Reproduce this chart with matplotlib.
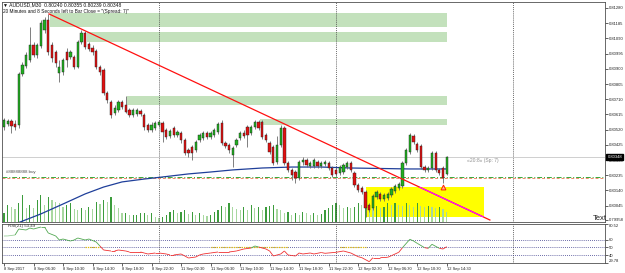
import numpy as np
import matplotlib
matplotlib.use('Agg')
import matplotlib.pyplot as plt
from matplotlib.patches import Rectangle
from matplotlib.collections import LineCollection
from matplotlib.transforms import blended_transform_factory

plt.rcParams['font.family'] = ['Liberation Sans', 'DejaVu Sans']

# AUDUSD M30 bars, prices in points (1 point = 0.00001)
opens = [80536, 80555, 80574, 80555, 80549, 80868, 80918, 80955, 81049, 80986,
         81043, 81143, 81205, 81049, 81005, 80874, 80880, 81005, 80974, 80974,
         80911, 81068, 81124, 81055, 81030, 81011, 80911, 80893, 80749, 80693,
         80624, 80643, 80693, 80674, 80643, 80611, 80618, 80636, 80611, 80549,
         80518, 80530, 80549, 80561, 80518, 80480, 80530, 80486, 80499, 80455,
         80393, 80411, 80393, 80455, 80468, 80499, 80474, 80486, 80505, 80561,
         80436, 80424, 80361, 80424, 80468, 80499, 80536, 80499, 80536, 80568,
         80568, 80486, 80436, 80411, 80318, 80424, 80530, 80311, 80268, 80255,
         80218, 80318, 80330, 80293, 80293, 80318, 80293, 80305, 80311, 80280,
         80268, 80249, 80255, 80286, 80311, 80249, 80174, 80155, 80130, 80049,
         80030, 80099, 80118, 80086, 80093, 80111, 80136, 80155, 80168, 80311,
         80380, 80480, 80430, 80418, 80286, 80268, 80280, 80374, 80268, 80280,
         80240]
highs = [80593, 80586, 80586, 80580, 80880, 80943, 81005, 81161, 81068, 81061,
         81205, 81224, 81243, 81068, 81018, 80955, 80968, 81030, 81018, 80986,
         81080, 81143, 81136, 81068, 81049, 81024, 80924, 80905, 80761, 80705,
         80674, 80705, 80705, 80730, 80655, 80655, 80655, 80649, 80624, 80561,
         80568, 80574, 80580, 80574, 80530, 80524, 80543, 80518, 80511, 80468,
         80405, 80424, 80455, 80499, 80511, 80511, 80511, 80530, 80568, 80580,
         80449, 80436, 80418, 80468, 80511, 80518, 80549, 80549, 80580, 80580,
         80580, 80499, 80449, 80424, 80480, 80549, 80543, 80324, 80280, 80268,
         80330, 80349, 80343, 80324, 80343, 80330, 80324, 80330, 80324, 80293,
         80280, 80299, 80311, 80324, 80324, 80261, 80186, 80168, 80143, 80061,
         80118, 80143, 80130, 80124, 80130, 80161, 80180, 80193, 80324, 80405,
         80499, 80493, 80443, 80430, 80299, 80293, 80386, 80386, 80280, 80293,
         80355]
lows = [80518, 80543, 80499, 80518, 80530, 80855, 80905, 80943, 80974, 80968,
        81030, 81124, 80986, 80943, 80911, 80818, 80861, 80911, 80961, 80899,
        80905, 81055, 81024, 81011, 80986, 80899, 80861, 80736, 80686, 80593,
        80611, 80630, 80649, 80624, 80599, 80599, 80605, 80605, 80518, 80505,
        80505, 80518, 80536, 80443, 80461, 80468, 80474, 80474, 80436, 80361,
        80349, 80330, 80380, 80443, 80455, 80461, 80461, 80474, 80493, 80424,
        80405, 80374, 80286, 80411, 80455, 80468, 80411, 80486, 80524, 80518,
        80461, 80443, 80368, 80299, 80305, 80411, 80299, 80255, 80205, 80186,
        80205, 80299, 80286, 80280, 80280, 80280, 80280, 80293, 80268, 80224,
        80230, 80236, 80243, 80274, 80255, 80161, 80130, 80118, 79974, 80005,
        80018, 80086, 80074, 80074, 80080, 80099, 80124, 80143, 80155, 80299,
        80368, 80430, 80380, 80274, 80255, 80255, 80268, 80255, 80236, 80186,
        80239]
closes = [80580, 80574, 80543, 80536, 80868, 80924, 80986, 81049, 80986, 81049,
          81186, 81205, 81005, 80968, 80936, 80911, 80955, 80955, 81005, 80911,
          81068, 81124, 81036, 81024, 81005, 80911, 80880, 80749, 80705, 80611,
          80655, 80693, 80661, 80630, 80611, 80643, 80643, 80618, 80536, 80518,
          80549, 80561, 80568, 80505, 80474, 80511, 80486, 80505, 80455, 80374,
          80374, 80374, 80443, 80486, 80499, 80474, 80499, 80518, 80555, 80436,
          80418, 80393, 80405, 80455, 80499, 80480, 80486, 80536, 80568, 80530,
          80474, 80455, 80380, 80311, 80424, 80530, 80311, 80268, 80236, 80218,
          80318, 80330, 80299, 80311, 80330, 80293, 80311, 80318, 80280, 80236,
          80243, 80286, 80299, 80311, 80268, 80174, 80143, 80130, 80030, 80018,
          80105, 80130, 80086, 80111, 80118, 80149, 80168, 80180, 80311, 80393,
          80486, 80443, 80393, 80286, 80268, 80280, 80374, 80268, 80249, 80218,
          80348]
volumes = [360, 680, 600, 520, 760, 1080, 560, 680, 560, 880,
           1080, 680, 1000, 880, 800, 760, 600, 680, 760, 520,
           480, 560, 480, 600, 520, 800, 720, 880, 800, 1000,
           680, 560, 360, 360, 280, 280, 280, 360, 360, 280,
           360, 200, 160, 200, 280, 400, 480, 360, 400, 480,
           320, 400, 280, 360, 280, 240, 280, 400, 480, 640,
           600, 760, 600, 520, 480, 600, 480, 680, 560, 600,
           480, 600, 640, 680, 520, 480, 360, 400, 280, 360,
           280, 400, 360, 280, 360, 280, 320, 480, 560, 680,
           760, 680, 560, 600, 560, 600, 760, 680, 760, 680,
           600, 640, 560, 600, 760, 680, 760, 680, 640, 760,
           680, 600, 760, 640, 600, 640, 600, 560, 600, 520,
           400]

# moving average (sampled bars)
ma_bar = [3, 10, 16, 22, 27, 32, 38, 43, 50, 56, 62, 70, 78, 86, 94, 102, 110, 120]
ma_val = [79930, 79993, 80055, 80118, 80161, 80193, 80211, 80224, 80243, 80255,
          80268, 80280, 80286, 80286, 80280, 80277, 80274, 80274]

# RSI(21)
rsi_bar = [0, 1, 3, 4, 6, 7, 8, 10, 11, 12, 14, 15, 16, 18, 19, 20, 22, 23, 25, 26,
           27, 29, 30, 31, 33, 34, 37, 38, 39, 41, 42, 44, 45, 46, 48, 49, 50, 52, 53, 54,
           56, 58, 61, 63, 64, 65, 67, 68, 69, 71, 72, 73, 75, 76, 77, 79, 80, 81, 83, 84,
           86, 87, 90, 92, 94, 96, 97, 99, 100, 102, 104, 105, 107, 108, 110, 111, 112, 114,
           115, 116, 118, 119, 120]
rsi_val = [64.9, 65.0, 66.2, 74.0, 72.7, 75.3, 74.0, 76.6, 76.6, 68.8, 65.0, 59.7, 61.0,
           58.4, 59.7, 62.3, 59.7, 61.0, 57.1, 51.9, 46.7, 45.4, 45.4, 46.7, 45.4, 44.1,
           44.1, 42.8, 41.5, 42.8, 42.8, 41.5, 40.2, 40.2, 41.5, 38.9, 36.3, 37.6, 40.2,
           41.5, 42.8, 44.1, 44.1, 45.4, 46.7, 48.0, 49.3, 51.9, 50.6, 48.0, 45.4, 38.9,
           41.5, 45.4, 40.2, 38.9, 42.8, 41.5, 42.8, 41.5, 43.4, 42.4, 43.7, 45.4, 42.8,
           38.0, 36.7, 31.5, 36.7, 36.7, 37.2, 39.3, 43.7, 49.7, 60.6, 58.4, 55.4, 49.7,
           48.9, 54.1, 48.9, 48.0, 51.0]
rsi_yellow = [(22, 26), (56, 77), (91, 98)]

# chart objects
zone_start = [12.5, 22.5, 33.3, 69.4]
zone_end = [120, 120, 120, 120]
zone_top = [81249, 81130, 80730, 80586]
zone_bot = [81161, 81068, 80674, 80549]
box_x = (98.1, 130.1)
box_y = (79974, 80161)
trend_x = [12.2, 131.7]
trend_y = [81243, 79955]
day_breaks = [42, 90, 138]
bid, order_open, order_sl = 80348, 80226, 80216

time_labels = ['8 Sep 2017', '8 Sep 06:30', '8 Sep 10:30', '8 Sep 14:30', '8 Sep 18:30',
               '8 Sep 22:30', '11 Sep 02:30', '11 Sep 06:30', '11 Sep 10:30',
               '11 Sep 14:30', '11 Sep 18:30', '11 Sep 22:30', '12 Sep 02:30',
               '12 Sep 06:30', '12 Sep 10:30', '12 Sep 14:30']
price_ticks = [81280, 81185, 81090, 80995, 80900, 80805, 80710, 80615, 80520,
               80425, 80330, 80235, 80140, 80045, 79958]

pt = 1e-5
o, h, l, c = (np.array(a) * pt for a in (opens, highs, lows, closes))
x = np.arange(len(o))

W, H = 625, 273
def box(left, top, right, bottom):
    return [left / W, 1 - bottom / H, (right - left) / W, (bottom - top) / H]

fig = plt.figure(figsize=(6.25, 2.73), dpi=100)
ax_vol = fig.add_axes(box(2, 2, 605, 222))
ax = fig.add_axes(box(2, 2, 605, 222), sharex=ax_vol)
ax.patch.set_visible(False)
ax_rsi = fig.add_axes(box(2, 224, 605, 263), sharex=ax_vol)

xmin, xmax = -0.54, 162.9
ax.set_xlim(xmin, xmax)
ax.set_ylim(0.799425, 0.813175)

# yellow box + volumes underneath the candles
ax_vol.axis('off')
ax_vol.set_ylim(0, 8800)
ax_vol.add_patch(Rectangle((box_x[0], box_y[0] * pt), box_x[1] - box_x[0],
                           (box_y[1] - box_y[0]) * pt, transform=ax.transData,
                           facecolor='#ffff00', edgecolor='none', zorder=0))
vol = np.array(volumes)
vcol = ['#3c9c3c' if i == 0 or vol[i] >= vol[i - 1] else '#a8d8a0' for i in range(len(vol))]
ax_vol.bar(x, vol, width=0.32, color=vcol, zorder=2)

# supply / demand zones
for x0, x1, y1, y0 in zip(zone_start, zone_end, zone_top, zone_bot):
    ax.add_patch(Rectangle((x0, y0 * pt), x1 - x0, (y1 - y0) * pt,
                           facecolor='#c3e1bc', edgecolor='none', zorder=0))

for d in day_breaks:
    ax.axvline(d, color='#404040', lw=0.6, ls=(0, (1, 1.3)), zorder=1)
    ax_rsi.axvline(d, color='#404040', lw=0.6, ls=(0, (1, 1.3)), zorder=1)

ax.axhline(bid * pt, color='#c8c8c8', lw=0.6, zorder=1)
ax.axhline(order_open * pt, color='#3aa83a', lw=0.7, ls=(0, (5, 2, 1, 2)), zorder=1)
ax.axhline(order_sl * pt, color='#f08a6a', lw=0.7, ls=(0, (3, 2)), zorder=1)

ma_line = ax.plot(ma_bar, np.array(ma_val) * pt, color='#1f3f9a', lw=0.9, zorder=2)

# candles
up = c >= o
ax.vlines(x, l, h, color='#6a6a6a', lw=0.6, zorder=3)
ax.bar(x, np.maximum(np.abs(c - o), 2 * pt), bottom=np.minimum(o, c), width=0.62,
       color=np.where(up, '#20b020', '#e01010'), edgecolor='#202020', linewidth=0.3, zorder=4)

# trend line, magenta where it crosses the yellow box
ty = np.array(trend_y) * pt
ax.plot(trend_x, ty, color='#ff1010', lw=0.9, zorder=5)
mag = ax.plot(trend_x, ty, color='#ff10ff', lw=0.9, zorder=6)[0]
clip = Rectangle((box_x[0], box_y[0] * pt), box_x[1] - box_x[0], (box_y[1] - box_y[0]) * pt,
                 transform=ax.transData)
mag.set_clip_path(clip)

ax.plot([119], [80161 * pt], marker='^', ms=3.5, mfc='#ffb49a', mec='#ff2000', mew=0.7, zorder=7)

# labels inside the main panel
ax.text(125.5, 80324 * pt, '«20:8» (Sp: 7)', fontsize=3.6, color='#909090', va='center')
ax.text(0.5, 80245 * pt, '#88888888 buy', fontsize=3.2, color='#505050', va='bottom')
ax.text(159.6, 79962 * pt, 'Text', fontsize=5.5, color='#202020', va='center', ha='left')
fig.text(3 / W, 1 - 4.5 / H, '▼ AUDUSD,M30  0.80240 0.80355 0.80239 0.80348',
         fontsize=3.6, va='center', color='#101010')
fig.text(3 / W, 1 - 11.5 / H,
         '20 Minutes and 8 Seconds left to Bar Close = "(Spread: 7)"',
         fontsize=3.4, va='center', color='#101010')

# price axis on the right
ax.yaxis.tick_right()
ax.set_yticks(np.array(price_ticks) * pt)
ax.set_yticklabels(['%.5f' % (p * pt) for p in price_ticks])
ax.tick_params(axis='y', length=2, width=0.5, pad=1, labelsize=3.0, colors='#202020')
ax.tick_params(axis='x', bottom=False, labelbottom=False)
tr = blended_transform_factory(ax.transAxes, ax.transData)
ax.text(1.004, bid * pt, '%.5f' % (bid * pt), transform=tr, fontsize=3.0, color='white',
        va='center', ha='left', clip_on=False, zorder=10,
        bbox=dict(boxstyle='square,pad=0.25', fc='black', ec='black'))

# RSI panel
rsi_b = np.array(rsi_bar, dtype=float)
rsi_v = np.array(rsi_val)
segs = [[(rsi_b[i], rsi_v[i]), (rsi_b[i + 1], rsi_v[i + 1])] for i in range(len(rsi_b) - 1)]
cols = []
for i in range(len(segs)):
    mid = (rsi_v[i] + rsi_v[i + 1]) / 2
    if rsi_b[i] < 3:
        cols.append('#9ad09a')
    elif mid >= 50:
        cols.append('#52a852')
    else:
        cols.append('#f03030')
ax_rsi.add_collection(LineCollection(segs, colors=cols, linewidths=0.6, zorder=3))
for lev in (40, 50, 60):
    ax_rsi.axhline(lev, color='#3c3c8c', lw=0.6, ls=(0, (1, 1.5)), zorder=1)
for a, b in rsi_yellow:
    ax_rsi.hlines(50, a, b, color='#e8c000', lw=0.9, ls=(0, (1, 1)), zorder=2)
ax_rsi.set_ylim(29.78, 80.52)
ax_rsi.text(1, 77.5, 'RSI(21) 53.49', fontsize=3.2, color='#303030', va='center')
ax_rsi.yaxis.tick_right()
rsi_ticks = [29.78, 40, 50, 60, 80.52]
ax_rsi.set_yticks(rsi_ticks)
ax_rsi.set_yticklabels(['29.78', '40', '50', '60', '80.52'])
ax_rsi.tick_params(axis='y', length=2, width=0.5, pad=1, labelsize=3.0, colors='#202020')
lbls = ax_rsi.get_yticklabels()
lbls[0].set_va('bottom')
lbls[-1].set_va('top')

ax_rsi.set_xticks(np.arange(len(time_labels)) * 8)
ax_rsi.set_xticklabels(time_labels)
ax_rsi.tick_params(axis='x', length=2, width=0.5, pad=1, labelsize=2.9, colors='#202020')
for t in ax_rsi.get_xticklabels():
    t.set_ha('left')

for a in (ax, ax_rsi):
    for s in a.spines.values():
        s.set_color('#505050')
        s.set_linewidth(0.6)

fig.savefig('out.png', dpi=100)
